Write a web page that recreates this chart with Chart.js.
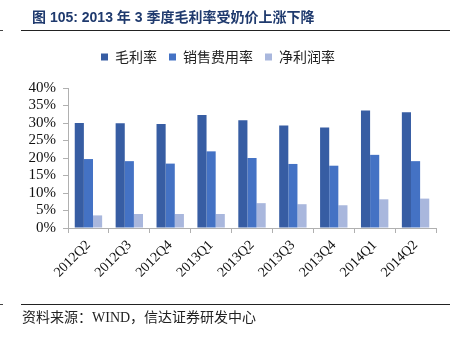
<!DOCTYPE html>
<html>
<head>
<meta charset="utf-8">
<script src="https://cdn.jsdelivr.net/npm/chart.js@4"></script>
<style>
  html, body { margin: 0; padding: 0; background: #fff; }
  #wrap { position: relative; width: 458px; height: 340px; overflow: hidden; }
  #chart { position: absolute; left: 0; top: 0; }
  .title { position: absolute; left: 32px; top: 6px; font: bold 14px "Liberation Sans", "Noto Sans CJK SC", sans-serif; color: #1f3a6e; white-space: nowrap; }
  .rule { position: absolute; left: 21px; width: 429px; height: 0; border-top: 1.5px solid #222; }
  .dash { position: absolute; left: 0; width: 3px; height: 0; border-top: 1px solid #444; }
  .source { position: absolute; left: 22px; top: 306px; font: 14px "Liberation Serif", "Noto Sans CJK SC", serif; color: #222; white-space: nowrap; }
</style>
</head>
<body>
<div id="wrap">
  <canvas id="chart" width="458" height="340"></canvas>
  <div class="title">图 105: 2013 年 3 季度毛利率受奶价上涨下降</div>
  <div class="rule" style="top:30px"></div>
  <div class="dash" style="top:30px"></div>
  <div class="rule" style="top:304px"></div>
  <div class="dash" style="top:304px"></div>
  <div class="source">资料来源：WIND，信达证券研发中心</div>
</div>
<script>
var quarters = ['2012Q2', '2012Q3', '2012Q4', '2013Q1', '2013Q2', '2013Q3', '2013Q4', '2014Q1', '2014Q2'];
var grossMargin = [30.0, 29.9, 29.7, 32.3, 30.8, 29.3, 28.7, 33.6, 33.1];
var salesExpense = [19.7, 19.1, 18.4, 21.9, 20.0, 18.3, 17.8, 20.9, 19.1];
var netMargin = [3.6, 4.0, 4.0, 4.0, 7.1, 6.8, 6.5, 8.2, 8.4];
var yTicks = [0, 5, 10, 15, 20, 25, 30, 35, 40];

var serif = '"Liberation Serif", "Times New Roman", serif';

// extra room under the legend
var legendGap = {
    id: 'legendGap',
    beforeInit: function(chart) {
        var fit = chart.legend.fit;
        chart.legend.fit = function() {
            fit.bind(chart.legend)();
            this.height += 14;
        };
    }
};

function bar(label, data, color) {
    return {
        label: label,
        data: data,
        backgroundColor: color,
        borderWidth: 0,
        barPercentage: 1,
        categoryPercentage: 0.67
    };
}

new Chart(document.getElementById('chart'), {
    type: 'bar',
    data: {
        labels: quarters,
        datasets: [
            bar('毛利率', grossMargin, '#375da3'),
            bar('销售费用率', salesExpense, '#4472c4'),
            bar('净利润率', netMargin, '#a9b7dd')
        ]
    },
    options: {
        responsive: false,
        animation: false,
        layout: { padding: { top: 38, left: 0, right: 22, bottom: 60 } },
        plugins: {
            legend: {
                position: 'top',
                labels: {
                    boxWidth: 7,
                    boxHeight: 7,
                    padding: 12,
                    color: '#222',
                    font: { size: 14, family: '"Noto Sans CJK SC", sans-serif' }
                }
            },
            tooltip: { enabled: false }
        },
        scales: {
            y: {
                min: 0,
                max: 40,
                afterBuildTicks: function(scale) {
                    scale.ticks = yTicks.map(function(v) { return { value: v }; });
                },
                afterFit: function(scale) { scale.width = 68; },
                ticks: {
                    autoSkip: false,
                    padding: 7,
                    color: '#111',
                    font: { size: 15, family: serif },
                    callback: function(v) { return v + '%'; }
                },
                grid: { drawOnChartArea: false, tickLength: 5, color: '#b0b0b0' },
                border: { color: '#b0b0b0' }
            },
            x: {
                afterFit: function(scale) { scale.height = 52; },
                ticks: {
                    autoSkip: false,
                    minRotation: 45,
                    maxRotation: 45,
                    padding: 4,
                    color: '#111',
                    font: { size: 14, family: serif }
                },
                grid: { drawOnChartArea: false, offset: true, tickLength: 5, color: '#b0b0b0' },
                border: { color: '#b0b0b0' }
            }
        }
    },
    plugins: [legendGap]
});
</script>
</body>
</html>
